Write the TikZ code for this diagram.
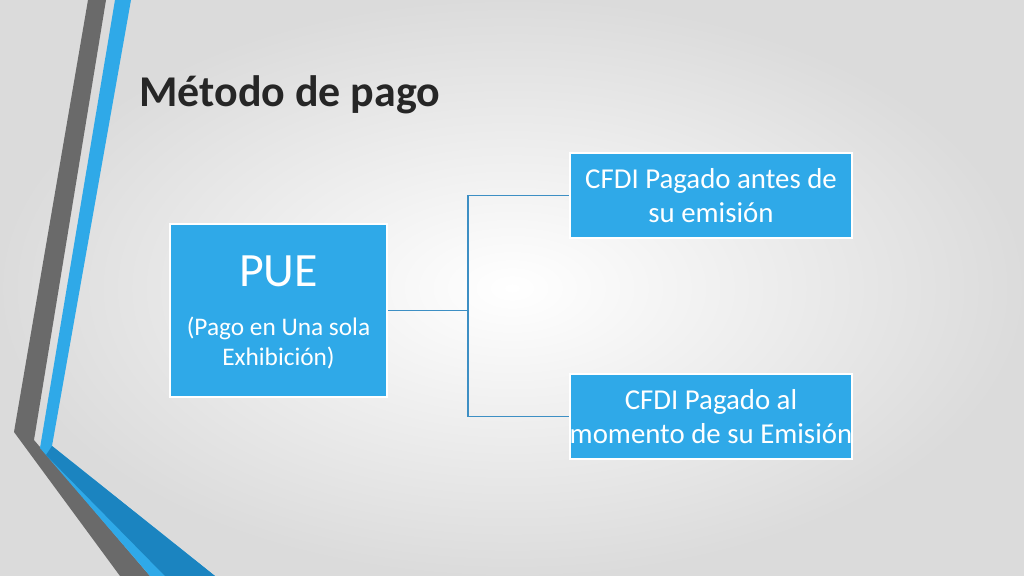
\documentclass[tikz,border=0pt]{standalone}
\usepackage{fontspec}
\setmainfont{Carlito}
\definecolor{boxblue}{HTML}{2FA9E8}
\definecolor{lineblue}{HTML}{3D8FC4}
\definecolor{stripegray}{HTML}{6A6A6A}
\definecolor{darkblue}{HTML}{1B84C0}
\begin{document}
\begin{tikzpicture}[x=0.01cm,y=-0.01cm]
\tikzstyle{bluebox}=[fill=boxblue,draw=white,line width=0.6pt,text=white,align=center,inner sep=0pt]
\tikzstyle{link}=[draw=lineblue,line width=0.5pt]
\useasboundingbox (0,0) rectangle (1024,576);
\shade[inner color=white,outer color=gray!28] (0,0) rectangle (1024,576);
% left stripes
\fill[stripegray] (88,0) -- (106,0) -- (34,440) -- (150,576) -- (120,576) -- (14,432) -- cycle;
\fill[boxblue] (115,0) -- (131,0) -- (52,446) -- (215,576) -- (150,576) -- (40,448) -- cycle;
\fill[darkblue] (52,446) -- (215,576) -- (165,576) -- (46,455) -- cycle;
\node[anchor=west,font=\bfseries\fontsize{12.5}{14}\selectfont,text=black!85] (title) at (127,95) {Método de pago};
\node[bluebox,minimum width=2.17cm,minimum height=1.73cm] (pue) at (278.5,310.5) {};
\node[text=white,font=\fontsize{13.6}{15}\selectfont] (puet) at (278.5,271) {PUE};
\node[text=white,align=center,font=\fontsize{7.2}{8.3}\selectfont] (puesub) at (278.5,343) {(Pago en Una sola\\Exhibición)};
\node[bluebox,minimum width=2.82cm,minimum height=0.85cm,font=\fontsize{8.2}{9.6}\selectfont] (antes) at (711,195.5) {CFDI Pagado antes de\\su emisión};
\node[bluebox,minimum width=2.82cm,minimum height=0.85cm,font=\fontsize{8.2}{9.6}\selectfont] (momento) at (711,416.5) {CFDI Pagado al\\momento de su Emisión};
\coordinate (split) at (468,310.5);
\draw[link] (pue.east) -- (split);
\draw[link] (split) |- (antes.west);
\draw[link] (split) |- (momento.west);
\end{tikzpicture}
\end{document}
